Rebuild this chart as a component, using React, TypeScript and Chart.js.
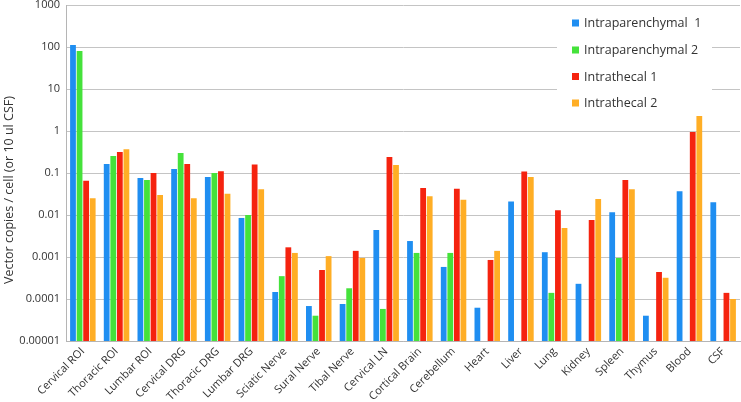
import React, { useEffect, useRef } from "react";
import { Chart, registerables } from "chart.js";

Chart.register(...registerables);

const categories = [
  "Cervical ROI", "Thoracic ROI", "Lumbar ROI", "Cervical DRG", "Thoracic DRG", "Lumbar DRG",
  "Sciatic Nerve", "Sural Nerve", "Tibal Nerve", "Cervical LN", "Cortical Brain", "Cerebellum",
  "Heart", "Liver", "Lung", "Kidney", "Spleen", "Thymus", "Blood", "CSF",
];

const intraparenchymal1 = [
  112, 0.164, 0.076, 0.125, 0.08, 0.0085, 0.000147, 0.000068, 0.000076, 0.0044,
  0.0024, 0.00058, 0.000062, 0.021, 0.0013, 0.00023, 0.0117, 0.00004, 0.037, 0.02,
];
const intraparenchymal2 = [
  80, 0.254, 0.068, 0.3, 0.1, 0.01, 0.00035, 0.00004, 0.00018, 0.000058,
  0.00125, 0.00125, null, null, 0.00014, null, 0.00095, null, null, null,
];
const intrathecal1 = [
  0.065, 0.316, 0.1, 0.164, 0.11, 0.16, 0.0017, 0.00049, 0.0014, 0.24,
  0.044, 0.042, 0.00085, 0.108, 0.013, 0.0076, 0.068, 0.00044, 0.95, 0.00014,
];
const intrathecal2 = [
  0.025, 0.37, 0.03, 0.025, 0.032, 0.041, 0.00125, 0.00105, 0.00095, 0.155,
  0.028, 0.023, 0.0014, 0.08, 0.0049, 0.024, 0.041, 0.00032, 2.27, 0.0001,
];

const seriesNames = ["Intraparenchymal  1", "Intraparenchymal 2", "Intrathecal 1", "Intrathecal 2"];
const seriesColors = ["#1F8EF1", "#45E23B", "#F5230F", "#FFAE25"];

const yTickValues = [1000, 100, 10, 1, 0.1, 0.01, 0.001, 0.0001, 0.00001];
const yTickLabels = ["1000", "100", "10", "1", "0.1", "0.01", "0.001", "0.0001", "0.00001"];

const yTitle = "Vector copies / cell (or 10 ul CSF)";
const FONT = "'Open Sans', sans-serif";

const legendPlugin = {
  id: "boxLegend",
  afterDraw(chart: any) {
    const ctx = chart.ctx;
    ctx.save();
    ctx.fillStyle = "#ffffff";
    ctx.fillRect(557, 9, 155, 106);
    ctx.font = `12.5px ${FONT}`;
    ctx.textBaseline = "middle";
    ctx.textAlign = "left";
    const ys = [23, 50, 76.5, 103];
    chart.data.datasets.forEach((ds: any, i: number) => {
      ctx.fillStyle = ds.backgroundColor;
      ctx.fillRect(572, ys[i] - 3.5, 7, 7);
      ctx.fillStyle = "#333333";
      ctx.fillText(ds.label, 584, ys[i] + 0.5);
    });
    // y-axis title
    ctx.translate(9, 190);
    ctx.rotate(-Math.PI / 2);
    ctx.textAlign = "center";
    ctx.font = `12.5px ${FONT}`;
    ctx.fillStyle = "#333333";
    ctx.fillText(yTitle, 0, 0);
    ctx.restore();
  },
};

export default function App() {
  const ref = useRef<HTMLCanvasElement | null>(null);

  useEffect(() => {
    document.body.style.margin = "0";
    const data = [intraparenchymal1, intraparenchymal2, intrathecal1, intrathecal2];
    const chart = new Chart(ref.current as HTMLCanvasElement, {
      type: "bar",
      data: {
        labels: categories,
        datasets: data.map((d, i) => ({
          label: seriesNames[i],
          data: d as any,
          backgroundColor: seriesColors[i],
          borderWidth: 0,
          categoryPercentage: 0.78,
          barPercentage: 0.88,
        })),
      },
      options: {
        animation: false,
        responsive: false,
        maintainAspectRatio: false,
        layout: { padding: { top: 5, right: 1, left: 0, bottom: 0 } },
        plugins: {
          legend: { display: false },
          tooltip: { enabled: false },
        },
        scales: {
          x: {
            grid: { display: false, drawTicks: false },
            border: { color: "#b5b5b5", width: 1 },
            ticks: {
              color: "#333333",
              font: { family: FONT, size: 11 },
              maxRotation: 45,
              minRotation: 45,
              autoSkip: false,
              padding: 4,
            },
            afterFit(scale: any) {
              scale.height = 61;
              scale.paddingRight = 0;
            },
          },
          y: {
            type: "logarithmic",
            min: 0.00001,
            max: 1000,
            grid: { color: "#c4c4c4", lineWidth: 1, drawTicks: false },
            border: { color: "#b5b5b5", width: 1 },
            title: { display: false },
            ticks: {
              color: "#333333",
              font: { family: FONT, size: 11 },
              padding: 6,
              callback: (_v: any, i: number) => yTickLabels[i],
            },
            afterBuildTicks(scale: any) {
              scale.ticks = yTickValues.map((v) => ({ value: v, major: false }));
            },
            afterFit(scale: any) {
              scale.width = 66;
              scale.paddingTop = 0;
              scale.paddingBottom = 0;
            },
          },
        },
      },
      plugins: [legendPlugin],
    });
    return () => chart.destroy();
  }, []);

  return (
    <div style={{ position: "fixed", left: 0, top: 0, width: 741, height: 402, background: "#fff" }}>
      <canvas ref={ref} width={741} height={402} style={{ width: 741, height: 402 }} />
    </div>
  );
}
